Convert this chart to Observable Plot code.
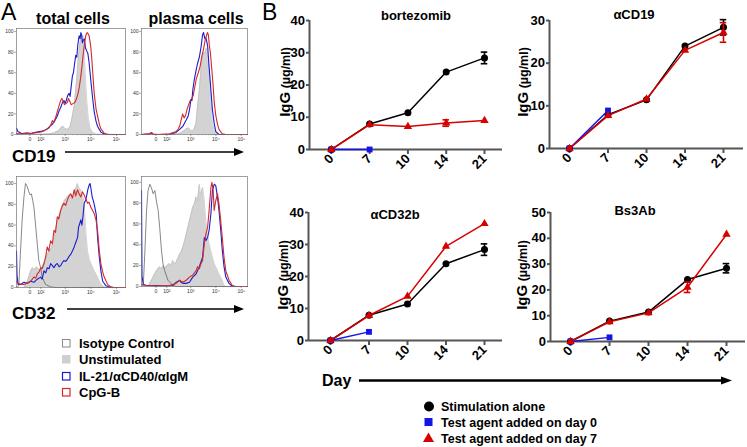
<!DOCTYPE html>
<html><head><meta charset="utf-8">
<script src="https://cdn.jsdelivr.net/npm/d3@7"></script>
<script src="https://cdn.jsdelivr.net/npm/@observablehq/plot@0.6"></script>
<style>
html,body{margin:0;padding:0;background:#fff;}
#fig{position:relative;width:747px;height:447px;overflow:hidden;font-family:"Liberation Sans",Arial,sans-serif;color:#000;background:#fff;}
.pl{position:absolute;}
.pl svg{overflow:visible;max-width:none !important;}
#ov{position:absolute;left:0;top:0;}
</style></head>
<body><div id="fig">
<svg id="ov" width="747" height="447" font-family="Liberation Sans, Arial, sans-serif">
  <text x="1" y="20" font-size="23">A</text>
  <text x="73" y="24" font-size="16" font-weight="bold" text-anchor="middle">total cells</text>
  <text x="196" y="24" font-size="16" font-weight="bold" text-anchor="middle">plasma cells</text>
  <text x="12" y="162" font-size="17" font-weight="bold">CD19</text>
  <line x1="65" y1="152" x2="235" y2="152" stroke="#000" stroke-width="1.4"/>
  <polygon points="234,148 244,152 234,156" fill="#000"/>
  <text x="12" y="319" font-size="17" font-weight="bold">CD32</text>
  <line x1="67" y1="309" x2="235" y2="309" stroke="#000" stroke-width="1.4"/>
  <polygon points="234,305 244,309 234,313" fill="#000"/>
  <g font-size="13" font-weight="bold">
    <rect x="62.5" y="339.5" width="7.5" height="7.5" fill="#fff" stroke="#888" stroke-width="1"/>
    <text x="79" y="348">Isotype Control</text>
    <rect x="62" y="355" width="8.5" height="8.5" fill="#cfcfcf"/>
    <text x="79" y="364">Unstimulated</text>
    <rect x="62.5" y="372.5" width="7.5" height="7.5" fill="#fff" stroke="#1c1ccf" stroke-width="1.2"/>
    <text x="79" y="381">IL-21/αCD40/αIgM</text>
    <rect x="62.5" y="388.5" width="7.5" height="7.5" fill="#fff" stroke="#d42a2a" stroke-width="1.2"/>
    <text x="79" y="397">CpG-B</text>
  </g>
  <text x="262" y="20" font-size="23">B</text>
  <g font-size="13" font-weight="bold" text-anchor="middle">
    <text x="416" y="20">bortezomib</text>
    <text x="634" y="19">αCD19</text>
    <text x="395" y="219">αCD32b</text>
    <text x="635" y="215">Bs3Ab</text>
  </g>
  <g font-weight="bold" text-anchor="middle">
    <text transform="translate(290,82) rotate(-90)"><tspan font-size="15">IgG</tspan><tspan font-size="12.5"> (µg/ml)</tspan></text>
    <text transform="translate(528,82) rotate(-90)"><tspan font-size="15">IgG</tspan><tspan font-size="12.5"> (µg/ml)</tspan></text>
    <text transform="translate(288,275) rotate(-90)"><tspan font-size="15">IgG</tspan><tspan font-size="12.5"> (µg/ml)</tspan></text>
    <text transform="translate(527,275) rotate(-90)"><tspan font-size="15">IgG</tspan><tspan font-size="12.5"> (µg/ml)</tspan></text>
  </g>
  <text x="322" y="386" font-size="16" font-weight="bold">Day</text>
  <line x1="359" y1="380.5" x2="723" y2="380.5" stroke="#000" stroke-width="2.6"/>
  <polygon points="721,376.5 732,380.5 721,384.5" fill="#000"/>
  <g font-size="12.5" font-weight="bold">
    <circle cx="429" cy="406.5" r="5" fill="#000"/>
    <text x="441" y="411">Stimulation alone</text>
    <rect x="424.5" y="418" width="8" height="8" fill="#1414e6"/>
    <text x="441" y="427">Test agent added on day 0</text>
    <polygon points="428.5,432.5 434,442 423,442" fill="#d60000"/>
    <text x="441" y="443">Test agent added on day 7</text>
  </g>
</svg>
</div>
<script>
// ---------- Panel B data ----------
const days = ["0", "7", "10", "14", "21"];
const stimAlone = [0, 7.9, 11.4, 24.0, 28.4];
const stimAloneErr = [0, 0, 0, 0, 1.8];
const bortezomibDay0 = [0, 0];
const bortezomibDay7 = [0, 7.7, 7.1, 8.2, 9.0];
const bortezomibDay7Err = [0, 0, 0, 1.0, 0];
const aCD19Day0 = [0, 8.9];
const aCD19Day7 = [0, 7.7, 11.6, 23.0, 27.2];
const aCD19Day7Err = [0, 0, 0, 0, 2.3];
const aCD32bDay0 = [0, 2.7];
const aCD32bDay7 = [0, 7.8, 13.8, 29.4, 36.5];
const aCD32bDay7Err = [0, 0, 0, 0, 0];
const bs3AbDay0 = [0, 1.6];
const bs3AbDay7 = [0, 7.6, 11.1, 21.0, 41.5];
const bs3AbDay7Err = [0, 0, 0, 2.0, 0];

// ---------- Panel A data: [display channel (decades), % of max] ----------
const histTicks = [1.62, 2.05, 3, 4, 5];
const histTickLabels = ["0", "10²", "10³", "10⁴", "10⁵"];
const histYTicks = [0, 20, 40, 60, 80, 100];

const cd19TotalUnstim = [[1.1,0],[2.3,0.5],[2.56,1.5],[2.75,4],[2.85,7],[2.92,8],[3.0,5.5],[3.1,5],[3.18,7],[3.25,14],[3.35,28],[3.45,54],[3.52,78],[3.58,90],[3.64,95],[3.7,96],[3.74,80],[3.79,55],[3.84,33],[3.9,16],[3.97,6],[4.07,2],[4.2,0.3],[5.35,0]];
const cd19TotalIL21 = [[1.1,6],[1.15,3],[1.3,1],[1.5,1.5],[1.65,1],[1.8,2],[2.04,3],[2.2,4],[2.3,5.5],[2.43,8.7],[2.5,10],[2.56,12],[2.63,15],[2.69,18],[2.76,23],[2.82,26],[2.89,31],[2.95,33],[3.0,30],[3.05,34],[3.1,38],[3.15,40],[3.19,37],[3.23,46],[3.28,57],[3.32,60],[3.36,68],[3.41,77],[3.45,75],[3.49,87],[3.54,96],[3.58,93],[3.61,99],[3.64,97],[3.67,89],[3.71,92],[3.75,93],[3.79,84],[3.84,81],[3.88,79],[3.93,70],[4.0,52],[4.07,35],[4.13,22],[4.2,13],[4.26,8],[4.39,2.3],[4.52,0.5],[4.7,0],[5.35,0]];
const cd19TotalCpG = [[1.1,1],[1.3,0.5],[1.5,1.5],[1.7,1],[1.9,2],[2.05,2.5],[2.2,4],[2.35,6],[2.43,8.7],[2.5,13.6],[2.56,12],[2.63,17],[2.69,22],[2.76,28],[2.82,33],[2.87,35],[2.92,32],[2.97,29],[3.02,30],[3.08,31],[3.13,35],[3.18,32],[3.23,29],[3.3,30],[3.37,31],[3.43,34],[3.49,39],[3.55,46],[3.61,57],[3.66,68],[3.71,80],[3.76,90],[3.8,96],[3.85,99],[3.89,98],[3.93,96],[3.97,90],[4.0,84],[4.04,72],[4.07,61],[4.13,40],[4.2,25],[4.26,18],[4.33,10],[4.39,5.5],[4.52,1.3],[4.65,0],[5.35,0]];

const cd19PlasmaUnstim = [[1.05,0],[2.4,0.3],[2.6,1.5],[2.75,4],[2.85,6],[2.92,6.4],[3.0,4],[3.08,3.5],[3.15,6],[3.21,11],[3.27,27],[3.34,43],[3.41,65],[3.47,76],[3.52,80],[3.57,79],[3.61,84],[3.65,80],[3.69,72],[3.74,60],[3.8,34],[3.86,12],[3.93,4],[3.99,1.6],[4.1,0],[5.25,0]];
const cd19PlasmaIL21 = [[1.05,0],[1.38,0.5],[1.44,1.6],[1.5,0.3],[1.64,0],[2.16,0],[2.29,1],[2.42,2],[2.56,5],[2.69,8],[2.82,14],[2.9,18],[2.95,24],[3.01,34],[3.05,33],[3.08,43],[3.14,53],[3.21,62],[3.27,69],[3.34,75],[3.41,85],[3.47,97],[3.51,99],[3.56,93],[3.6,94],[3.64,90],[3.67,86],[3.73,65],[3.8,43],[3.86,24],[3.93,11],[3.99,3],[4.12,0],[5.25,0]];
const cd19PlasmaCpG = [[1.05,0],[1.38,1],[1.44,2],[1.52,0.5],[1.7,0],[2.16,0.6],[2.42,3],[2.5,5],[2.56,8],[2.62,14],[2.68,20],[2.74,16],[2.8,19],[2.86,25],[2.92,29],[2.98,33],[3.04,35],[3.1,38],[3.16,46],[3.22,54],[3.3,60],[3.37,66],[3.44,76],[3.5,82],[3.56,90],[3.61,95],[3.66,99],[3.7,97],[3.74,86],[3.78,79],[3.83,65],[3.88,50],[3.93,32],[3.99,19],[4.06,10],[4.12,5],[4.25,0.6],[4.4,0],[5.25,0]];

const cd32TotalIsotype = [[1.1,0],[1.19,1.6],[1.25,32],[1.32,65],[1.39,87],[1.45,100],[1.52,97],[1.58,92],[1.63,89],[1.68,90],[1.73,84],[1.78,77],[1.84,61],[1.91,42],[1.97,26],[2.04,19],[2.1,10],[2.23,3],[2.43,0.6],[2.6,0],[5.35,0]];
const cd32TotalUnstim = [[1.39,0],[1.52,6],[1.6,12],[1.67,17],[1.73,19],[1.8,17],[1.88,20],[1.95,18],[2.04,16],[2.12,21],[2.2,25],[2.3,32],[2.38,35],[2.46,38],[2.56,48],[2.64,58],[2.72,66],[2.82,74],[2.9,80],[2.98,84],[3.08,87],[3.16,89],[3.22,90],[3.3,86],[3.37,91],[3.42,96],[3.48,100],[3.55,95],[3.61,94],[3.68,88],[3.74,81],[3.8,55],[3.87,35],[3.94,27],[4.0,23],[4.08,19],[4.13,16],[4.26,10],[4.39,3],[4.52,0.6],[4.6,0]];
const cd32TotalIL21 = [[1.1,35],[1.12,12],[1.16,3],[1.25,3],[1.39,5],[1.52,4],[1.65,6],[1.78,5],[1.91,8],[2.04,10],[2.1,8],[2.17,16],[2.24,14],[2.3,19],[2.37,18],[2.43,23],[2.5,21],[2.56,19],[2.63,22],[2.69,23],[2.76,20],[2.82,21],[2.89,24],[2.95,26],[3.02,25],[3.08,27],[3.15,30],[3.22,32],[3.28,35],[3.35,39],[3.42,44],[3.48,48],[3.52,58],[3.56,61],[3.61,65],[3.65,60],[3.69,68],[3.74,81],[3.8,84],[3.85,90],[3.88,94],[3.94,99],[3.97,100],[4.01,94],[4.05,87],[4.09,84],[4.13,80],[4.17,75],[4.21,70],[4.26,48],[4.33,29],[4.39,16],[4.46,6],[4.59,1.6],[4.78,0],[5.35,0]];
const cd32TotalCpG = [[1.1,6],[1.16,4],[1.25,3],[1.39,3],[1.52,4],[1.65,6],[1.78,10],[1.85,9],[1.91,13],[1.98,15],[2.04,19],[2.1,18],[2.17,23],[2.24,30],[2.3,39],[2.36,35],[2.43,45],[2.5,42],[2.56,55],[2.62,53],[2.69,68],[2.75,66],[2.82,74],[2.88,78],[2.95,81],[3.02,79],[3.08,84],[3.15,88],[3.22,90],[3.28,86],[3.35,94],[3.41,88],[3.48,94],[3.54,90],[3.61,87],[3.67,92],[3.74,89],[3.8,85],[3.87,81],[3.93,82],[4.0,77],[4.07,74],[4.13,71],[4.2,65],[4.26,55],[4.33,35],[4.39,23],[4.46,15],[4.52,10],[4.65,3],[4.78,0.6],[4.9,0],[5.35,0]];

const cd32PlasmaIsotype = [[1.05,0],[1.12,1],[1.18,31],[1.25,73],[1.31,92],[1.38,98],[1.44,95],[1.51,89],[1.58,92],[1.64,82],[1.71,73],[1.77,57],[1.84,35],[1.9,22],[1.97,15],[2.1,6],[2.29,1],[2.42,0],[5.25,0]];
const cd32PlasmaUnstim = [[1.3,0],[1.38,3],[1.51,9],[1.64,15],[1.77,19],[1.84,17],[1.9,20],[1.97,18],[2.03,19],[2.1,21],[2.16,22],[2.22,20],[2.29,25],[2.36,22],[2.42,23],[2.49,27],[2.56,31],[2.62,33],[2.69,38],[2.76,44],[2.82,50],[2.89,57],[2.95,63],[3.02,70],[3.08,76],[3.14,79],[3.21,86],[3.27,82],[3.34,98],[3.38,90],[3.41,89],[3.47,95],[3.54,82],[3.6,63],[3.66,50],[3.73,41],[3.8,34],[3.86,28],[3.93,22],[3.99,19],[4.12,12],[4.25,6],[4.32,1],[4.4,0]];
const cd32PlasmaIL21 = [[1.05,92],[1.07,10],[1.12,2],[1.25,1],[1.64,1],[2.0,0.5],[2.29,1],[2.42,4],[2.5,5],[2.56,6],[2.62,4],[2.69,3],[2.82,3],[2.95,4],[3.08,9],[3.21,12],[3.34,19],[3.47,28],[3.54,47],[3.6,44],[3.67,47],[3.73,54],[3.8,70],[3.86,92],[3.93,98],[3.99,97],[4.06,86],[4.12,73],[4.19,54],[4.25,35],[4.32,19],[4.39,9],[4.52,3],[4.65,0],[5.25,0]];
const cd32PlasmaCpG = [[1.05,2],[1.25,1],[1.64,0.5],[2.16,1],[2.42,3],[2.56,6],[2.69,4],[2.82,6],[2.95,9],[3.08,11],[3.21,15],[3.27,19],[3.34,17],[3.41,22],[3.47,25],[3.54,41],[3.6,50],[3.67,57],[3.73,73],[3.8,95],[3.84,100],[3.89,92],[3.93,73],[3.99,82],[4.06,89],[4.12,79],[4.19,63],[4.25,47],[4.32,28],[4.39,15],[4.52,6],[4.65,1],[4.8,0],[5.25,0]];

// ---------- helpers ----------
const fig = document.getElementById("fig");
const FONT = "Liberation Sans, Arial, sans-serif";
function place(svg, left, top) {
  const d = document.createElement("div");
  d.className = "pl";
  d.style.left = left + "px";
  d.style.top = top + "px";
  d.appendChild(svg);
  fig.appendChild(d);
}
const labelMap = new Map(histTicks.map((t, i) => [t, histTickLabels[i]]));
const minorTicks = [3, 4].flatMap(d => d3.range(2, 10).map(k => d + Math.log10(k))).concat([5.2]);

function histogram(cfg) {
  const toObj = a => a.map(([u, v]) => ({u, v}));
  const marks = [
    Plot.areaY(toObj(cfg.unstim), {x: "u", y: "v", fill: "#d3d3d3"}),
    Plot.line(toObj(cfg.unstim), {x: "u", y: "v", stroke: "#b8b8b8", strokeWidth: 0.6})
  ];
  if (cfg.isotype) marks.push(Plot.line(toObj(cfg.isotype), {x: "u", y: "v", stroke: "#555", strokeWidth: 0.7}));
  marks.push(Plot.line(toObj(cfg.il21), {x: "u", y: "v", stroke: "#1c1ccf", strokeWidth: 1.1}));
  marks.push(Plot.line(toObj(cfg.cpg), {x: "u", y: "v", stroke: "#d42a2a", strokeWidth: 1.1}));
  marks.push(Plot.frame({stroke: "#777", strokeWidth: 0.7}));
  marks.push(Plot.axisY({ticks: histYTicks, tickSize: 2, tickPadding: 1, fontSize: 5, stroke: "#555", strokeWidth: 0.5, fill: "#333", label: null}));
  marks.push(Plot.axisX({ticks: histTicks, tickFormat: d => labelMap.get(d), tickSize: 2, tickPadding: 1, fontSize: 5, stroke: "#555", strokeWidth: 0.5, fill: "#333", label: null}));
  marks.push(Plot.axisX({ticks: minorTicks, tickFormat: () => "", tickSize: 1.2, stroke: "#666", strokeWidth: 0.4, label: null}));
  const svg = Plot.plot({
    width: cfg.width, height: cfg.height,
    marginLeft: 16, marginRight: cfg.width - 16 - cfg.fw, marginTop: 2, marginBottom: cfg.height - 2 - cfg.fh,
    x: {domain: cfg.xDomain},
    y: {domain: [0, cfg.yMax]},
    style: {background: "transparent", overflow: "visible", fontFamily: FONT},
    marks
  });
  place(svg, cfg.left, cfg.top);
}

histogram({unstim: cd19TotalUnstim, il21: cd19TotalIL21, cpg: cd19TotalCpG,
  left: 0, top: 26, width: 128, height: 120, fw: 109, fh: 106, xDomain: [1.1, 5.35], yMax: 103});
histogram({unstim: cd19PlasmaUnstim, il21: cd19PlasmaIL21, cpg: cd19PlasmaCpG,
  left: 125, top: 26, width: 125, height: 120, fw: 106, fh: 106, xDomain: [1.05, 5.25], yMax: 103});
histogram({unstim: cd32TotalUnstim, isotype: cd32TotalIsotype, il21: cd32TotalIL21, cpg: cd32TotalCpG,
  left: 0, top: 174, width: 128, height: 125, fw: 109, fh: 111, xDomain: [1.1, 5.35], yMax: 106.7});
histogram({unstim: cd32PlasmaUnstim, isotype: cd32PlasmaIsotype, il21: cd32PlasmaIL21, cpg: cd32PlasmaCpG,
  left: 125, top: 174, width: 125, height: 124, fw: 106, fh: 110, xDomain: [1.05, 5.25], yMax: 105.5});

// ---------- line charts ----------
const BLUE = "#1414e6", RED = "#d60000", AXIS = "#555";
function lineChart(cfg) {
  const stim = days.map((d, i) => ({i, v: stimAlone[i], e: stimAloneErr[i]}));
  const a0 = cfg.day0.map((v, i) => ({i, v}));
  const a7 = days.map((d, i) => ({i, v: cfg.day7[i], e: cfg.day7Err[i]}));
  const cap = 0.085;
  const err = (data, color) => {
    const f = data.filter(d => d.e > 0);
    return [
      Plot.ruleX(f, {x: "i", y1: d => d.v - d.e, y2: d => d.v + d.e, stroke: color, strokeWidth: 1.6}),
      Plot.ruleY(f, {x1: d => d.i - cap, x2: d => d.i + cap, y: d => d.v + d.e, stroke: color, strokeWidth: 1.6}),
      Plot.ruleY(f, {x1: d => d.i - cap, x2: d => d.i + cap, y: d => d.v - d.e, stroke: color, strokeWidth: 1.6})
    ];
  };
  const svg = Plot.plot({
    width: cfg.width, height: cfg.height,
    marginLeft: cfg.mL, marginRight: cfg.mR, marginTop: cfg.mT, marginBottom: cfg.mB,
    x: {domain: cfg.xDomain},
    y: {domain: [0, cfg.yMax]},
    style: {background: "transparent", overflow: "visible", fontFamily: FONT, fontWeight: "bold", fontSize: "13px"},
    marks: [
      Plot.ruleX([cfg.xDomain[0]], {y1: 0, y2: cfg.yMax, stroke: AXIS, strokeWidth: 2}),
      Plot.ruleY([0], {x1: cfg.xDomain[0], x2: cfg.xDomain[1], stroke: AXIS, strokeWidth: 2}),
      Plot.axisY({ticks: cfg.yTicks, tickSize: 3, tickPadding: 1.5, stroke: AXIS, strokeWidth: 2, fill: "#000", fontSize: 13, label: null}),
      Plot.axisX({ticks: [0, 1, 2, 3, 4], tickFormat: i => days[i], tickSize: 5, tickPadding: 2, tickRotate: -45, stroke: AXIS, strokeWidth: 2, fill: "#000", fontSize: 13, label: null}),
      Plot.line(stim, {x: "i", y: "v", stroke: "#000", strokeWidth: 1.5}),
      ...err(stim, "#000"),
      Plot.dot(stim, {x: "i", y: "v", r: 3.5, fill: "#000"}),
      Plot.line(a0, {x: "i", y: "v", stroke: BLUE, strokeWidth: 1.5}),
      Plot.dot(a0, {x: "i", y: "v", symbol: "square", r: 3.3, fill: BLUE}),
      Plot.line(a7, {x: "i", y: "v", stroke: RED, strokeWidth: 1.5}),
      ...err(a7, RED),
      Plot.dot(a7, {x: "i", y: "v", symbol: "triangle", r: 3.1, fill: RED})
    ]
  });
  place(svg, cfg.left, cfg.top);
}

lineChart({day0: bortezomibDay0, day7: bortezomibDay7, day7Err: bortezomibDay7Err,
  yMax: 40, yTicks: [0, 10, 20, 30, 40], left: 260, top: 0, width: 245, height: 190,
  mL: 49, mR: 3, mT: 20, mB: 41, xDomain: [-0.57, 4.47]});
lineChart({day0: aCD19Day0, day7: aCD19Day7, day7Err: aCD19Day7Err,
  yMax: 30, yTicks: [0, 10, 20, 30], left: 500, top: 0, width: 247, height: 190,
  mL: 49, mR: 4, mT: 20, mB: 42, xDomain: [-0.52, 4.52]});
lineChart({day0: aCD32bDay0, day7: aCD32bDay7, day7Err: aCD32bDay7Err,
  yMax: 40, yTicks: [0, 10, 20, 30, 40], left: 260, top: 195, width: 245, height: 190,
  mL: 48, mR: 3, mT: 17, mB: 45, xDomain: [-0.571, 4.468]});
lineChart({day0: bs3AbDay0, day7: bs3AbDay7, day7Err: bs3AbDay7Err,
  yMax: 50, yTicks: [0, 10, 20, 30, 40, 50], left: 500, top: 195, width: 247, height: 190,
  mL: 50, mR: 2, mT: 17, mB: 44, xDomain: [-0.513, 4.487]});
</script>
</body></html>
